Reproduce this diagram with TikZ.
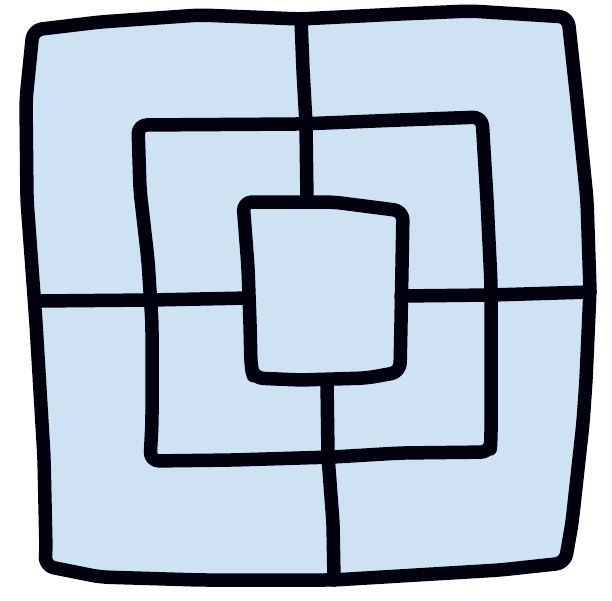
\documentclass[tikz,border=0pt]{standalone}
\begin{document}
\begin{tikzpicture}[x=1pt,y=-1pt]
\definecolor{boardfill}{RGB}{207,226,243}
\definecolor{ink}{RGB}{2,2,14}
\tikzset{
  board/.style={draw=ink,line width=13.5pt,line join=round,line cap=round,rounded corners=9pt},
  link/.style={draw=ink,line width=13.5pt,line cap=round,line join=round,rounded corners=6pt}
}
\useasboundingbox (0,0) rectangle (612,600);
% outer square
\path[board,fill=boardfill] (33,30) -- (100,22) -- (200,15) -- (300,19) -- (400,14) -- (470,11) -- (568,17)
  -- (577,100) -- (587,200) -- (590,290) -- (586,380) -- (583,423) -- (572,523) -- (565,563)
  -- (500,570) -- (333,580) -- (200,580) -- (100,577) -- (45,566)
  -- (46,550) -- (44,457) -- (36,323) -- (27,200) -- (26,100) -- cycle;
% middle square
\path[board] (138,125) -- (300,124) -- (400,120) -- (482,117) -- (487,200) -- (491,283) -- (491,440) -- (490,452)
  -- (400,453) -- (333,457) -- (233,460) -- (150,461) -- (152,423) -- (152,323) -- (148,260) -- (140,190) -- cycle;
% inner square
\path[board] (243,202) -- (333,202) -- (403,211) -- (402,267) -- (401,323) -- (400,372)
  -- (367,378) -- (300,380) -- (254,378) -- (251,367) -- (250,323) -- (248,267) -- cycle;
% connector end points
\coordinate (tO) at (301,19);  \coordinate (tM) at (306,124); \coordinate (tI) at (307,202);
\coordinate (lO) at (36,301);  \coordinate (lM) at (151,300); \coordinate (lI) at (249,298);
\coordinate (rI) at (401,296); \coordinate (rM) at (491,295); \coordinate (rO) at (590,292);
\coordinate (bI) at (327,380); \coordinate (bM) at (328,456); \coordinate (bO) at (334,580);
% connectors
\path[link] (tO) -- (303,70) -- (tM) -- (tI);
\path[link] (lO) -- (lM) -- (lI);
\path[link] (rI) -- (rM) -- (rO);
\path[link] (bI) -- (bM) -- (333,523) -- (bO);
\end{tikzpicture}
\end{document}
